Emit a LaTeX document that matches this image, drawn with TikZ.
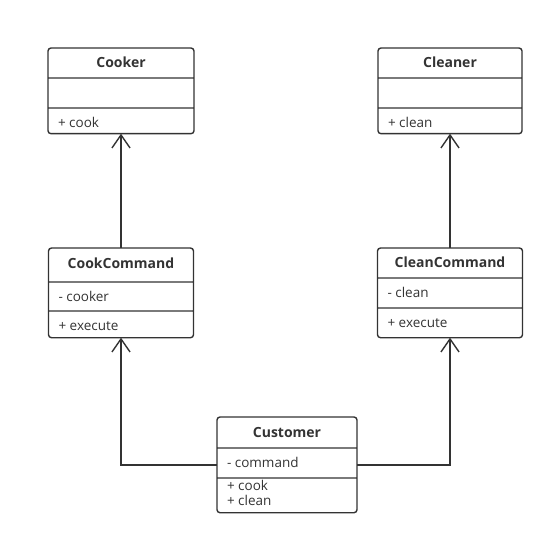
\documentclass[tikz,border=0pt]{standalone}
\usepackage{fontspec}
\setmainfont{Open Sans}
\usetikzlibrary{shapes.multipart,arrows.meta}
\definecolor{umlgray}{HTML}{333333}
\newcommand{\rowh}[2]{\rule[-#2pt]{0pt}{#1pt}}
\newcommand{\ctitle}[1]{{\fontsize{14}{15}\selectfont\bfseries #1}}

\begin{document}
\begin{tikzpicture}[x=1pt,y=-1pt,
		classnode/.style={rectangle split, rectangle split parts=3, rectangle split part align={center,left,left},
			draw=umlgray, line width=1.4pt, rounded corners=3pt, inner ysep=0pt, inner xsep=10pt, outer sep=0pt,
			anchor=north, text=umlgray, font=\fontsize{13.5}{15}\selectfont},
		inherit/.style={draw=umlgray, line width=1.4pt, -{Straight Barb[length=13pt,width=18pt]}},
	]
	
		\useasboundingbox (0,0) rectangle (554,545);
	
		%Nodes
		\node[classnode, minimum width=146pt]	(cooker)	at (121,48)	{\rowh{28.6}{9.6}\ctitle{Cooker}\nodepart{two}\rowh{28.6}{9.6}\nodepart{three}\rowh{24.3}{5.3}+ cook};
		\node[classnode, minimum width=144pt]	(cleaner)	at (450,48)	{\rowh{28.6}{9.6}\ctitle{Cleaner}\nodepart{two}\rowh{28.6}{9.6}\nodepart{three}\rowh{24.3}{5.3}+ clean};
		\node[classnode, minimum width=145pt]	(cookcmd)	at (121,248)	{\rowh{32.6}{12.6}\ctitle{CookCommand}\nodepart{two}\rowh{27.6}{8.6}- cooker\nodepart{three}\rowh{25.3}{6.3}+ execute};
		\node[classnode, minimum width=145pt]	(cleancmd)	at (450,248)	{\rowh{28.6}{9.6}\ctitle{CleanCommand}\nodepart{two}\rowh{28.6}{9.6}- clean\nodepart{three}\rowh{28.3}{9.3}+ execute};
		\node[classnode, minimum width=140pt]	(customer)	at (287,417)	{\rowh{29.6}{9.6}\ctitle{Customer}\nodepart{two}\rowh{28.6}{9.6}- command\nodepart{three}\rowh{33.3}{6.3}\begin{tabular}[b]{@{}l@{}}+ cook\\+ clean\end{tabular}};
	
		%Lines
		\draw[inherit]	(cookcmd.north) -- (cooker.south);
		\draw[inherit]	(cleancmd.north) -- (cleaner.south);
		\draw[inherit]	(customer.west) -| (cookcmd.south);
		\draw[inherit]	(customer.east) -| (cleancmd.south);
	
	\end{tikzpicture}
\end{document}
